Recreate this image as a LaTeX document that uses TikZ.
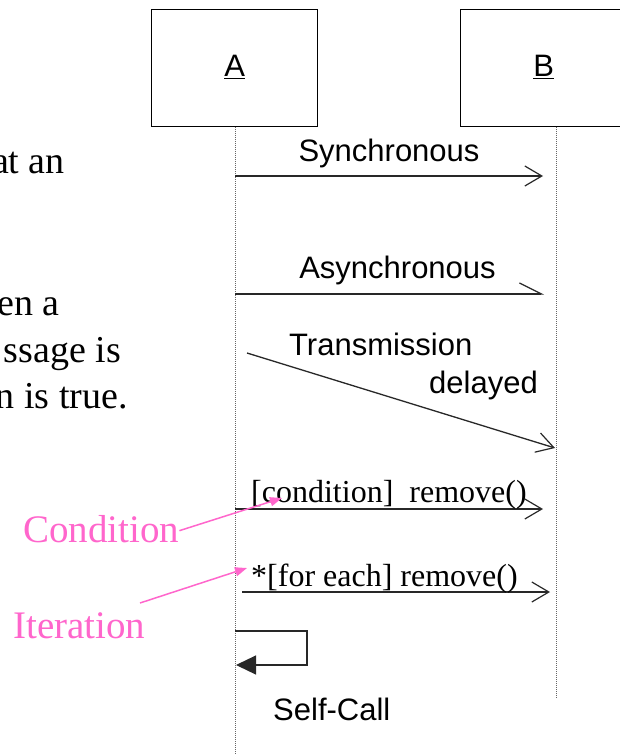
\documentclass[tikz,border=0pt]{standalone}
\usepackage{fontspec}
\setmainfont{Liberation Serif}
\newfontfamily\arialf{Liberation Sans}
\usetikzlibrary{arrows.meta}
\definecolor{pinkc}{RGB}{255,102,204}
\definecolor{msgc}{RGB}{40,40,40}
\tikzset{
  objbox/.style={draw=black, line width=1pt},
  lifeline/.style={draw=gray!80!black, line width=0.9pt, dash pattern=on 1pt off 1pt},
  msgline/.style={draw=msgc, line width=1.3pt},
  synctip/.style={-{Straight Barb[length=17pt,width=20pt,line width=1.2pt]}},
  asynctip/.style={-{Straight Barb[left,length=22pt,width=22pt,line width=1.2pt]}},
  sanslbl/.style={inner sep=0pt, font=\arialf\fontsize{31}{36}\selectfont},
  seriflbl/.style={inner sep=0pt, font=\fontsize{32}{38}\selectfont},
  bodylbl/.style={inner sep=0pt, font=\fontsize{38}{44}\selectfont},
  pinklbl/.style={inner sep=0pt, text=pinkc, font=\fontsize{39}{44}\selectfont},
  pinkarrow/.style={draw=pinkc, line width=1.5pt, -{Triangle[length=12pt,width=9pt]}},
}
\begin{document}
\begin{tikzpicture}[x=1pt,y=1pt]
\useasboundingbox (0,0) rectangle (620,-754);
\clip (0,0) rectangle (620,-754);
\fill[white] (0,0) rectangle (620,-754);

% object boxes
\draw[objbox] (151.7,-9.3) rectangle (317.7,-127);
\draw[objbox] (460.7,-9.3) rectangle (650,-127);
\node[sanslbl, anchor=base] (Alab) at (234.7,-77) {\underline{A}};
\node[sanslbl, anchor=base] (Blab) at (543.7,-77) {\underline{B}};

% lifelines
\coordinate (Atop) at (235,-127);
\coordinate (Abot) at (235,-754);
\coordinate (Btop) at (556,-127);
\coordinate (Bbot) at (556,-699);
\draw[lifeline] (Atop) -- (Abot);
\draw[lifeline] (Btop) -- (Bbot);

% left cropped slide text
\node[bodylbl, anchor=base east] (t1) at (65,-173) {at an};
\node[bodylbl, anchor=base east] (t2) at (60,-315) {en a};
\node[bodylbl, anchor=base east] (t3) at (121,-362) {ssage is};
\node[bodylbl, anchor=base east] (t4) at (128,-408) {n is true.};

% synchronous
\coordinate (s1) at (235,-176);
\coordinate (s2) at (543,-176);
\draw[msgline, synctip] (s1) -- (s2);
\node[sanslbl, anchor=base] (sync) at (389,-162) {Synchronous};

% asynchronous
\coordinate (a1) at (235,-294);
\coordinate (a2) at (544,-294);
\draw[msgline, asynctip] (a1) -- (a2);
\node[sanslbl, anchor=base] (async) at (397.5,-278) {Asynchronous};

% transmission delayed
\coordinate (d1) at (247,-353);
\coordinate (d2) at (555,-448);
\draw[msgline, synctip] (d1) -- (d2);
\node[sanslbl, anchor=base west] (trans) at (289,-355) {Transmission};
\node[sanslbl, anchor=base west] (delay) at (429,-393) {delayed};

% condition
\coordinate (c1) at (235,-509);
\coordinate (c2) at (543,-509);
\draw[msgline, synctip] (c1) -- (c2);
\node[seriflbl, anchor=base west] (cond) at (251,-502) {[condition]\ \ remove()};

% iteration
\coordinate (i1) at (242,-592);
\coordinate (i2) at (550,-592);
\draw[msgline, synctip] (i1) -- (i2);
\node[seriflbl, anchor=base west] (iter) at (251,-586) {*[for each] remove()};

% pink annotations
\node[pinklbl, anchor=base west] (Cond) at (23,-542) {Condition};
\node[pinklbl, anchor=base west] (Iter) at (13,-638) {Iteration};
\coordinate (cp) at (282,-498);
\coordinate (ip) at (247,-568);
\draw[pinkarrow] (Cond.east) ++(0,-2) -- (cp);
\draw[pinkarrow] (140,-603) -- (ip);

% self call
\coordinate (sc1) at (235,-631);
\coordinate (sc2) at (307,-631);
\coordinate (sc3) at (307,-665);
\coordinate (sc4) at (236,-665);
\draw[draw=msgc, line width=1.2pt, -{Triangle[length=20pt,width=19pt]}] (sc1) -- (sc2) -- (sc3) -- (sc4);
\node[sanslbl, anchor=base west] (self) at (273,-720) {Self-Call};
\end{tikzpicture}
\end{document}
